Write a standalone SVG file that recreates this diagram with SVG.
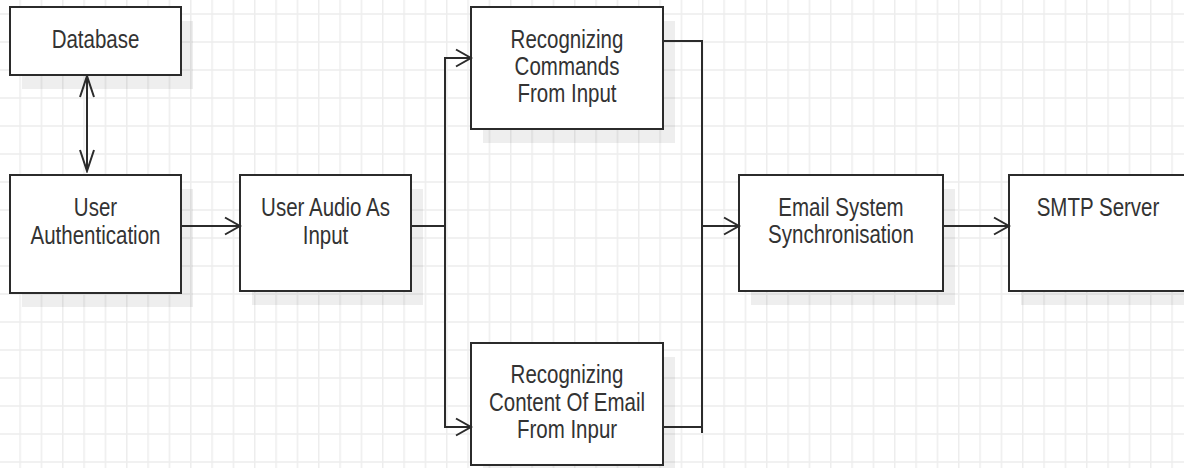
<svg xmlns="http://www.w3.org/2000/svg" width="1184" height="468" viewBox="0 0 1184 468">
  <style>
    .box { fill: #ffffff; stroke: #2b2b2b; stroke-width: 2; }
    .shadow { fill: #000000; fill-opacity: 0.065; stroke: none; }
    .label { font-family: "Liberation Sans", Arial, sans-serif; font-size: 25px; fill: #333333; text-anchor: middle; }
    .wire { fill: none; stroke: #2b2b2b; stroke-width: 2; }
    .head { fill: none; stroke: #2b2b2b; stroke-width: 2; stroke-linejoin: miter; }
  </style>
  <defs>
    <pattern id="grid" patternUnits="userSpaceOnUse" x="-2" y="0" width="21.333" height="28">
      <rect width="21.333" height="28" fill="#ffffff"/>
      <line x1="0.75" y1="0" x2="0.75" y2="28" stroke="#ededed" stroke-width="1.5"/>
      <line x1="0" y1="14" x2="21.333" y2="14" stroke="#ededed" stroke-width="1.5"/>
    </pattern>
    <!-- open chevron for horizontal runs -->
    <marker id="arrowH" markerUnits="userSpaceOnUse" viewBox="0 0 18 20" markerWidth="18" markerHeight="20" refX="16" refY="10" orient="auto-start-reverse">
      <path class="head" d="M1,1.5 L16,10 L1,18.5"/>
    </marker>
    <!-- longer, slimmer chevron for the vertical link -->
    <marker id="arrowV" markerUnits="userSpaceOnUse" viewBox="0 0 24 16" markerWidth="24" markerHeight="16" refX="22" refY="8" orient="auto-start-reverse">
      <path class="head" d="M1,1 L22,8 L1,15"/>
    </marker>
  </defs>

  <rect width="1184" height="468" fill="url(#grid)"/>

  <!-- labels use a condensed face: each text is squeezed horizontally about its centre -->
  <g id="database">
    <rect class="shadow" x="22" y="21" width="171" height="68"/>
    <rect class="box" x="10" y="7" width="171" height="68"/>
    <g transform="matrix(0.82 0 0 1 95.5 0)">
      <text class="label" x="0" y="48">Database</text>
    </g>
  </g>

  <g id="user-authentication">
    <rect class="shadow" x="22" y="189" width="171" height="118"/>
    <rect class="box" x="10" y="175" width="171" height="118"/>
    <g transform="matrix(0.82 0 0 1 95.5 0)">
      <text class="label" x="0" y="216">User</text>
      <text class="label" x="0" y="244">Authentication</text>
    </g>
  </g>

  <g id="user-audio-input">
    <rect class="shadow" x="252" y="189" width="171" height="116"/>
    <rect class="box" x="240" y="175" width="171" height="116"/>
    <g transform="matrix(0.82 0 0 1 325.5 0)">
      <text class="label" x="0" y="216">User Audio As</text>
      <text class="label" x="0" y="244">Input</text>
    </g>
  </g>

  <g id="recognizing-commands">
    <rect class="shadow" x="483" y="21" width="192" height="122"/>
    <rect class="box" x="471" y="7" width="192" height="122"/>
    <g transform="matrix(0.82 0 0 1 567 0)">
      <text class="label" x="0" y="48">Recognizing</text>
      <text class="label" x="0" y="75">Commands</text>
      <text class="label" x="0" y="102">From Input</text>
    </g>
  </g>

  <g id="recognizing-content">
    <rect class="shadow" x="483" y="357" width="192" height="122"/>
    <rect class="box" x="471" y="343" width="192" height="122"/>
    <g transform="matrix(0.82 0 0 1 567 0)">
      <text class="label" x="0" y="383">Recognizing</text>
      <text class="label" x="0" y="411">Content Of Email</text>
      <text class="label" x="0" y="438">From Inpur</text>
    </g>
  </g>

  <g id="email-sync">
    <rect class="shadow" x="751" y="189" width="204" height="116"/>
    <rect class="box" x="739" y="175" width="204" height="116"/>
    <g transform="matrix(0.82 0 0 1 841 0)">
      <text class="label" x="0" y="216">Email System</text>
      <text class="label" x="0" y="243">Synchronisation</text>
    </g>
  </g>

  <g id="smtp-server">
    <rect class="shadow" x="1021" y="189" width="180" height="116"/>
    <rect class="box" x="1009" y="175" width="180" height="116"/>
    <g transform="matrix(0.82 0 0 1 1098 0)">
      <text class="label" x="0" y="216">SMTP Server</text>
    </g>
  </g>

  <g id="connectors">
    <path class="wire" d="M87,76 V171" marker-start="url(#arrowV)" marker-end="url(#arrowV)"/>
    <path class="wire" d="M181,226 H240" marker-end="url(#arrowH)"/>
    <path class="wire" d="M411,226 H445 V58 H471" marker-end="url(#arrowH)"/>
    <path class="wire" d="M445,226 V427 H471" marker-end="url(#arrowH)"/>
    <path class="wire" d="M663,41 H702 V433"/>
    <path class="wire" d="M663,427 H702"/>
    <path class="wire" d="M702,226 H739" marker-end="url(#arrowH)"/>
    <path class="wire" d="M943,226 H1009" marker-end="url(#arrowH)"/>
  </g>
</svg>
